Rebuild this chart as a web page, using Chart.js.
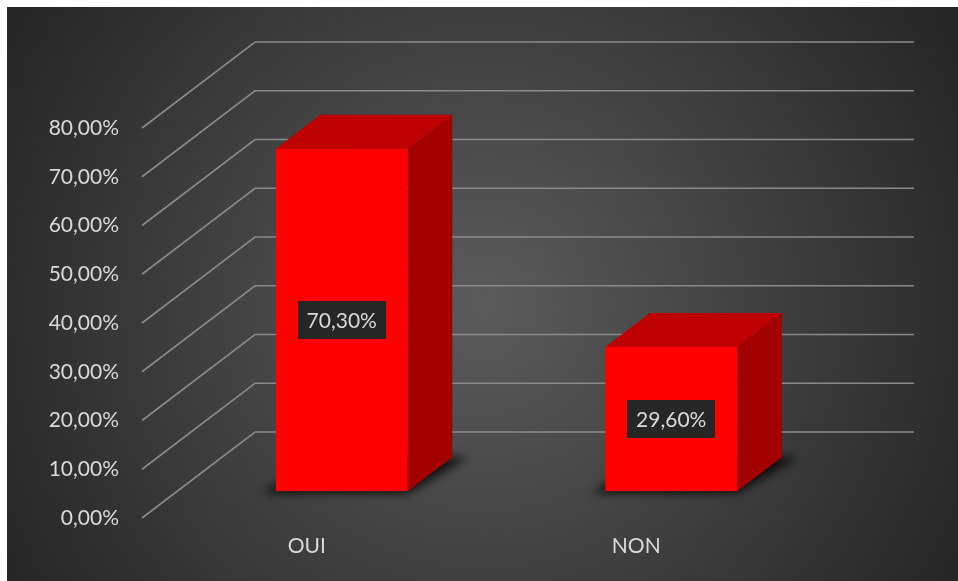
<!DOCTYPE html>
<html>
<head>
<meta charset="utf-8">
<script src="https://cdn.jsdelivr.net/npm/chart.js@4.4.0/dist/chart.umd.min.js"></script>
<style>
  html, body { margin: 0; padding: 0; background: #fff; }
  #wrap { position: absolute; left: 7px; top: 7px; width: 951px; height: 574px; }
</style>
</head>
<body>
<div id="wrap"><canvas id="chart"></canvas></div>
<script>
// Data
const categories = ['OUI', 'NON'];
const values = [70.3, 29.6];
const yMin = 0;
const yMax = 80;
const yStep = 10;

// Oblique depth of the floor (px) and where the bars sit in it
const DEPTH_X = 113, DEPTH_Y = -86;
const BAR_FRONT = 0.31, BAR_DEPTH = 0.395;
const FONT = { family: 'Lato', size: 21 };
const TEXT = '#dadada';

function pct(v) {
    return Number(v).toFixed(2).replace('.', ',') + '%';
}

function poly(ctx, pts) {
    ctx.beginPath();
    ctx.moveTo(pts[0][0], pts[0][1]);
    for (let i = 1; i < pts.length; i++) ctx.lineTo(pts[i][0], pts[i][1]);
    ctx.closePath();
    ctx.fill();
}

const box3d = {
    id: 'box3d',
    // radial backdrop
    beforeDraw(chart) {
        const { ctx, width, height } = chart;
        const cx = width * 0.5, cy = height * 0.52;
        const g = ctx.createRadialGradient(cx, cy, 0, cx, cy, 540);
        g.addColorStop(0, '#5b5b5b');
        g.addColorStop(1, '#262626');
        ctx.save();
        ctx.fillStyle = g;
        ctx.fillRect(0, 0, width, height);
        ctx.restore();
    },
    // side wall + back wall gridlines
    beforeDatasetsDraw(chart) {
        const { ctx, chartArea: a, scales: { y } } = chart;
        ctx.save();
        ctx.strokeStyle = '#8a8a8a';
        ctx.lineWidth = 1.6;
        y.ticks.forEach(t => {
            const py = y.getPixelForValue(t.value);
            ctx.beginPath();
            ctx.moveTo(a.left, py);
            ctx.lineTo(a.left + DEPTH_X, py + DEPTH_Y);
            ctx.lineTo(a.right + DEPTH_X, py + DEPTH_Y);
            ctx.stroke();
        });
        ctx.restore();
    },
    // shadow, side and top faces; front face is drawn by Chart.js pushed back into depth
    beforeDatasetDraw(chart, args) {
        const { ctx } = chart;
        const fx = BAR_FRONT * DEPTH_X, fy = BAR_FRONT * DEPTH_Y;
        const dx = BAR_DEPTH * DEPTH_X, dy = BAR_DEPTH * DEPTH_Y;
        ctx.save();
        args.meta.data.forEach(bar => {
            const { x, y, base, width } = bar.getProps(['x', 'y', 'base', 'width'], true);
            const l = x - width / 2 + fx, r = x + width / 2 + fx;
            const t = y + fy, b = base + fy;

            ctx.save();
            ctx.filter = 'blur(5px)';
            ctx.fillStyle = 'rgba(0,0,0,0.8)';
            poly(ctx, [[l - 14, b + 2], [r, b + 2], [r + dx + 16, b + dy], [l + dx, b + dy]]);
            ctx.restore();

            ctx.fillStyle = '#a30000';
            poly(ctx, [[r, b], [r + dx, b + dy], [r + dx, t + dy], [r, t]]);
            ctx.fillStyle = '#bf0000';
            poly(ctx, [[l, t], [r, t], [r + dx, t + dy], [l + dx, t + dy]]);
        });
        ctx.restore();
        ctx.save();
        ctx.translate(fx, fy);
    },
    afterDatasetDraw(chart) {
        chart.ctx.restore();
    },
    // value labels on the front faces
    afterDatasetsDraw(chart) {
        const { ctx } = chart;
        const fx = BAR_FRONT * DEPTH_X, fy = BAR_FRONT * DEPTH_Y;
        ctx.save();
        ctx.font = FONT.size + 'px ' + FONT.family;
        ctx.textAlign = 'center';
        ctx.textBaseline = 'middle';
        chart.getDatasetMeta(0).data.forEach((bar, i) => {
            const { x, y, base } = bar.getProps(['x', 'y', 'base'], true);
            const cx = x + fx, cy = (y + base) / 2 + fy;
            const txt = pct(values[i]);
            const w = ctx.measureText(txt).width + 18, h = 38;
            ctx.fillStyle = '#262626';
            ctx.fillRect(Math.round(cx - w / 2), Math.round(cy - h / 2), Math.round(w), h);
            ctx.fillStyle = TEXT;
            ctx.fillText(txt, cx, cy + 1);
        });
        ctx.restore();
    }
};

const ctx = document.getElementById('chart').getContext('2d');
new Chart(ctx, {
    type: 'bar',
    data: {
        labels: categories,
        datasets: [{
            data: values,
            backgroundColor: '#ff0000',
            borderWidth: 0,
            categoryPercentage: 1,
            barPercentage: 0.4
        }]
    },
    options: {
        responsive: true,
        maintainAspectRatio: false,
        animation: false,
        layout: { padding: { top: 121, right: 157, left: 0, bottom: 0 } },
        plugins: {
            legend: { display: false },
            tooltip: { enabled: false }
        },
        scales: {
            x: {
                grid: { display: false, drawTicks: false },
                border: { display: false },
                ticks: { color: TEXT, font: FONT, padding: 16 },
                afterFit(s) { s.height = 63; }
            },
            y: {
                min: yMin,
                max: yMax,
                grid: { display: false, drawTicks: false },
                border: { display: false },
                ticks: { stepSize: yStep, color: TEXT, font: FONT, padding: 23, callback: v => pct(v) },
                afterFit(s) { s.width = 135; }
            }
        }
    },
    plugins: [box3d]
});
</script>
</body>
</html>
